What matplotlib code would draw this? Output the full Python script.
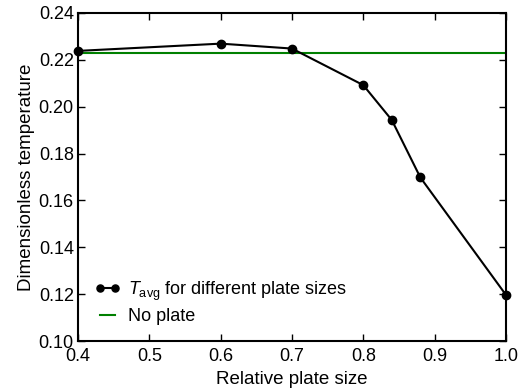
import matplotlib
matplotlib.use("Agg")
import matplotlib.pyplot as plt

plate_size = [0.4, 0.6, 0.7, 0.8, 0.84, 0.88, 1.0]
t_avg = [0.2238, 0.2269, 0.2248, 0.2092, 0.1943, 0.1698, 0.1197]
no_plate = 0.2231

plt.rcParams["font.family"] = ["Liberation Sans", "DejaVu Sans"]
plt.rcParams["mathtext.fontset"] = "custom"
plt.rcParams["mathtext.it"] = "Liberation Sans:italic"
plt.rcParams["mathtext.rm"] = "Liberation Sans"

fig = plt.figure(figsize=(5.27, 3.92), dpi=100)
ax = fig.add_axes([0.148, 0.130, 0.812, 0.837])

ax.plot(plate_size, t_avg, "-o", color="black", lw=1.5, ms=6,
        label=r"$T_{\rm avg}$ for different plate sizes", clip_on=False, zorder=3)
ax.axhline(no_plate, color="#008000", lw=1.5, label="No plate")

ax.set_xlim(0.4, 1.0)
ax.set_ylim(0.10, 0.24)
ax.set_xticks([0.4, 0.5, 0.6, 0.7, 0.8, 0.9, 1.0])
ax.set_yticks([0.10, 0.12, 0.14, 0.16, 0.18, 0.20, 0.22, 0.24])
ax.xaxis.set_major_formatter(matplotlib.ticker.FormatStrFormatter("%.1f"))
ax.yaxis.set_major_formatter(matplotlib.ticker.FormatStrFormatter("%.2f"))
ax.tick_params(direction="in", top=True, right=True, labelsize=13, length=5, width=1)
ax.tick_params(axis="x", pad=5)
ax.tick_params(axis="y", pad=3)
for s in ax.spines.values():
    s.set_linewidth(1.5)

ax.set_xlabel("Relative plate size", fontsize=13.5, labelpad=4)
ax.set_ylabel("Dimensionless temperature", fontsize=13.5, labelpad=3)

ax.legend(loc="lower left", frameon=False, fontsize=13, handlelength=1.4,
          handletextpad=0.45, borderaxespad=0.3, labelspacing=0.3, numpoints=2,
          markerscale=0.85, bbox_to_anchor=(0.01, 0.01))

fig.savefig("out.png", dpi=100)
